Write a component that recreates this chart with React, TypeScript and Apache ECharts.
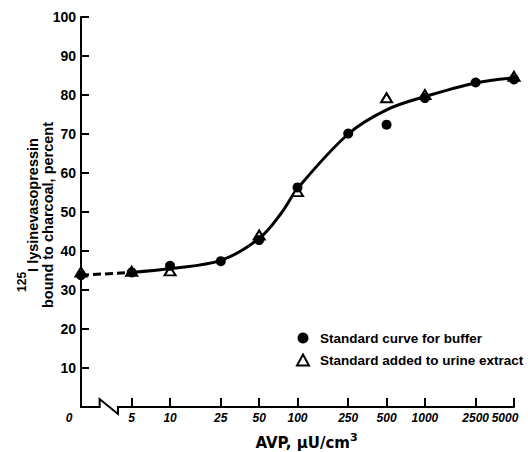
import React, { useEffect, useRef } from "react";
import * as echarts from "echarts";

// Tick positions on the AVP axis (µU/cm³); 0 sits at the axis origin behind the break.
const avpTicks = [0, 5, 10, 25, 50, 100, 250, 500, 1000, 2500, 5000];
const boundTicks = [10, 20, 30, 40, 50, 60, 70, 80, 90, 100];

// Standard curve for buffer (filled circles)
const bufferAvp = [0, 5, 10, 25, 50, 100, 250, 500, 1000, 2500, 5000];
const bufferBound = [33.8, 34.5, 36.2, 37.4, 42.8, 56.3, 70.1, 72.4, 79.2, 83.2, 84.0];

// Standard added to urine extract (open triangles)
const urineAvp = [0, 5, 10, 50, 100, 500, 1000, 5000];
const urineBound = [34.6, 34.8, 34.9, 44.1, 55.2, 79.3, 80.1, 84.8];

// Fitted curve (solid) and extrapolation to zero (dashed)
const curveAvp = [5, 10, 25, 50, 75, 100, 250, 500, 1000, 2500, 5000];
const curveBound = [34.5, 35.5, 37.6, 43.2, 49.8, 56.0, 70.0, 76.2, 79.6, 83.1, 84.4];
const extrapAvp = [0, 5];
const extrapBound = [33.8, 34.5];

// The zero standard is drawn at the start of the log axis.
const ZERO_AT = 2;
const AXIS_MAX = 5000;
// Span of the axis break drawn between 0 and 5.
const BREAK_FROM = 2.8;
const BREAK_TO = 3.9;

const toLog = (v: number) => Math.log10(v === 0 ? ZERO_AT : v);
const pairs = (xs: number[], ys: number[]) => xs.map((x, i) => [toLog(x), ys[i]]);

const tickLabel = (v: number) => {
  let best = avpTicks[0];
  let d = Infinity;
  for (const t of avpTicks) {
    const dd = Math.abs(toLog(t) - v);
    if (dd < d) {
      d = dd;
      best = t;
    }
  }
  if (best === 0) return "{z|0}";
  if (best === 5000) return "{e|5000}";
  return "{t|" + best + "}";
};

const xLabelFont = {
  fontFamily: "Liberation Sans",
  fontWeight: "bold" as const,
  fontStyle: "italic" as const,
  fontSize: 12,
  color: "#000",
};

export default function App() {
  const ref = useRef<HTMLDivElement>(null);

  useEffect(() => {
    if (!ref.current) return;
    const chart = echarts.init(ref.current, null, { renderer: "svg" });

    chart.setOption({
      animation: false,
      backgroundColor: "#fff",
      grid: {
        left: 81,
        right: 14,
        top: 17,
        bottom: 45,
        containLabel: false,
        outerBoundsMode: "none",
      },
      legend: {
        data: ["Standard curve for buffer", "Standard added to urine extract"],
        orient: "vertical",
        left: 296,
        top: 331,
        padding: 0,
        itemWidth: 12,
        itemHeight: 11,
        itemGap: 8,
        textStyle: {
          fontFamily: "Liberation Sans",
          fontWeight: "bold",
          fontSize: 13.5,
          color: "#000",
          padding: [0, 0, 0, 6],
        },
      },
      xAxis: {
        type: "value",
        min: toLog(0),
        max: toLog(AXIS_MAX),
        name: "{a|AVP, µU/cm}{s|3}",
        nameLocation: "middle",
        nameGap: 25,
        nameMoveOverlap: false,
        nameTextStyle: {
          padding: [0, 0, 0, 18],
          rich: {
            a: {
              fontFamily: "DejaVu Sans",
              fontWeight: "bold",
              fontSize: 15,
              lineHeight: 18,
              verticalAlign: "bottom",
              color: "#000",
            },
            s: {
              fontFamily: "DejaVu Sans",
              fontWeight: "bold",
              fontSize: 11,
              verticalAlign: "top",
              padding: [0, 0, 6, 0],
              color: "#000",
            },
          },
        },
        splitLine: { show: false },
        axisLine: { show: true, lineStyle: { color: "#000", width: 2 } },
        axisTick: {
          show: true,
          inside: true,
          length: 9,
          lineStyle: { color: "#000", width: 2 },
          customValues: avpTicks.filter((t) => t > 0).map(toLog),
        },
        axisLabel: {
          show: true,
          margin: 5,
          customValues: avpTicks.map(toLog),
          formatter: (v: number) => tickLabel(v),
          rich: {
            t: { ...xLabelFont },
            z: { ...xLabelFont, padding: [0, 24, 0, 0] },
            e: { ...xLabelFont, padding: [0, 18, 0, 0] },
          },
        },
      },
      yAxis: {
        type: "value",
        min: 0,
        max: 100,
        name:
          "{s|125}{m|I lysinevasopressin}\n{n|bound to charcoal, percent}",
        nameLocation: "middle",
        nameRotate: 90,
        nameGap: 25,
        nameMoveOverlap: false,
        nameTextStyle: {
          padding: [0, 6, 0, 0],
          rich: {
            s: {
              fontFamily: "Liberation Sans",
              fontWeight: "bold",
              fontSize: 12,
              verticalAlign: "top",
              padding: [0, 0, 12, 0],
              color: "#000",
            },
            m: {
              fontFamily: "Liberation Sans",
              fontWeight: "bold",
              fontSize: 14.5,
              lineHeight: 16,
              verticalAlign: "bottom",
              color: "#000",
            },
            n: {
              fontFamily: "Liberation Sans",
              fontWeight: "bold",
              fontSize: 14.5,
              lineHeight: 16,
              color: "#000",
            },
          },
        },
        splitLine: { show: false },
        axisLine: { show: true, lineStyle: { color: "#000", width: 2 } },
        axisTick: {
          show: true,
          inside: true,
          length: 8,
          lineStyle: { color: "#000", width: 2 },
          customValues: boundTicks,
        },
        axisLabel: {
          show: true,
          margin: 5,
          customValues: boundTicks,
          fontFamily: "Liberation Sans",
          fontWeight: "bold",
          fontSize: 14,
          color: "#000",
        },
      },
      series: [
        {
          name: "extrapolation",
          type: "line",
          data: pairs(extrapAvp, extrapBound),
          symbol: "none",
          clip: false,
          lineStyle: { color: "#000", width: 3, type: [8, 4] },
          z: 2,
        },
        {
          name: "fitted curve",
          type: "line",
          data: pairs(curveAvp, curveBound),
          symbol: "none",
          smooth: 0.35,
          lineStyle: { color: "#000", width: 3 },
          z: 2,
        },
        {
          name: "Standard added to urine extract",
          type: "scatter",
          data: pairs(urineAvp, urineBound),
          symbol: "triangle",
          symbolSize: [11, 9],
          clip: false,
          itemStyle: { color: "#fff", borderColor: "#000", borderWidth: 2, opacity: 1 },
          z: 3,
        },
        {
          name: "Standard curve for buffer",
          type: "scatter",
          data: pairs(bufferAvp, bufferBound),
          symbol: "circle",
          symbolSize: 10,
          clip: false,
          itemStyle: { color: "#000", opacity: 1 },
          z: 4,
        },
      ],
    });

    // Axis break between 0 and 5 on the AVP axis.
    const p1 = chart.convertToPixel({ gridIndex: 0 }, [Math.log10(BREAK_FROM), 0]) as number[];
    const p2 = chart.convertToPixel({ gridIndex: 0 }, [Math.log10(BREAK_TO), 0]) as number[];
    chart.setOption({
      graphic: [
        {
          type: "rect",
          z: 100,
          shape: { x: p1[0] + 1, y: p1[1] - 2, width: p2[0] - p1[0] - 2, height: 4 },
          style: { fill: "#fff" },
        },
        {
          type: "polyline",
          z: 101,
          shape: {
            points: [
              [p1[0], p1[1]],
              [p1[0], p1[1] - 8],
              [p2[0], p1[1] + 7],
              [p2[0], p1[1]],
            ],
          },
          style: { stroke: "#000", lineWidth: 2, fill: "none" },
        },
      ],
    });

    return () => chart.dispose();
  }, []);

  return (
    <div
      ref={ref}
      style={{ position: "fixed", left: 0, top: 0, width: 528, height: 452, background: "#fff" }}
    />
  );
}
